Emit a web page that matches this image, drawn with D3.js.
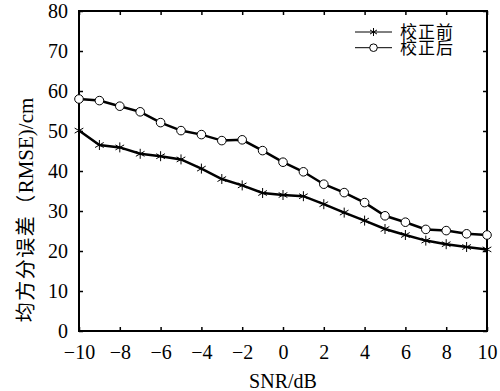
<!DOCTYPE html>
<html>
<head>
<meta charset="utf-8">
<script src="https://cdn.jsdelivr.net/npm/d3@7"></script>
<style>
  body { margin: 0; background: #fff; }
  text { fill: #000; }
</style>
</head>
<body>
<div id="chart"></div>
<script>
// SNR values (dB)
const snr = [-10, -9, -8, -7, -6, -5, -4, -3, -2, -1, 0, 1, 2, 3, 4, 5, 6, 7, 8, 9, 10];
// before correction (校正前)
const before = [50.1, 46.5, 45.9, 44.3, 43.7, 42.9, 40.6, 38.0, 36.4, 34.5, 34.0, 33.7, 31.7, 29.6, 27.6, 25.5, 24.0, 22.6, 21.7, 21.0, 20.4];
// after correction (校正后)
const after = [58.0, 57.6, 56.2, 54.8, 52.1, 50.1, 49.1, 47.6, 47.8, 45.1, 42.2, 39.8, 36.7, 34.6, 32.1, 28.8, 27.2, 25.4, 25.1, 24.3, 24.0];
const xTicks = [-10, -8, -6, -4, -2, 0, 2, 4, 6, 8, 10];
const yTicks = [0, 10, 20, 30, 40, 50, 60, 70, 80];
const seriesNames = ['校正前', '校正后'];

const W = 500, H = 391;
const margin = { top: 11, right: 13, bottom: 60, left: 79 };
const width = W - margin.left - margin.right;
const height = H - margin.top - margin.bottom;

const svg = d3.select('#chart').append('svg')
  .attr('width', W).attr('height', H);
const g = svg.append('g').attr('transform', `translate(${margin.left},${margin.top})`);

const x = d3.scaleLinear().domain([-10, 10]).range([0, width]);
const y = d3.scaleLinear().domain([0, 80]).range([height, 0]);

const serif = '"Liberation Serif", "Times New Roman", serif';
const cjk = '"Noto Sans CJK SC", sans-serif';
const fmt = d => d < 0 ? '\u2212' + Math.abs(d) : String(d);

// axes: ticks point inward on all four sides
const tickLen = 4;
const xAxis = d3.axisBottom(x).tickValues(xTicks).tickSize(-tickLen).tickPadding(14).tickFormat(fmt);
const yAxis = d3.axisLeft(y).tickValues(yTicks).tickSize(-tickLen).tickPadding(11);

const gx = g.append('g').attr('transform', `translate(0,${height})`).call(xAxis);
const gy = g.append('g').call(yAxis);
g.append('g').call(d3.axisTop(x).tickValues(xTicks).tickSize(-tickLen).tickFormat(''));
g.append('g').attr('transform', `translate(${width},0)`).call(d3.axisRight(y).tickValues(yTicks).tickSize(-tickLen).tickFormat(''));

g.selectAll('.domain').remove();
g.selectAll('.tick line').attr('stroke', '#000').attr('stroke-width', 1.5);
[gx, gy].forEach(a => a.selectAll('.tick text')
  .style('font-family', serif).style('font-size', '20px').attr('fill', '#000'));

g.append('rect').attr('width', width).attr('height', height)
  .attr('fill', 'none').attr('stroke', '#000').attr('stroke-width', 2);

// axis titles
svg.append('text')
  .attr('x', margin.left + width / 2).attr('y', 388)
  .attr('text-anchor', 'middle')
  .style('font-family', serif).style('font-size', '20px')
  .text('SNR/dB');

svg.append('text')
  .attr('transform', `translate(33,210) rotate(-90)`)
  .attr('text-anchor', 'middle')
  .style('font-size', '20px')
  .call(t => {
    t.append('tspan').style('font-family', cjk).style('letter-spacing', '1.5px').text('均方分误差（');
    t.append('tspan').style('font-family', serif).style('font-size', '21px').text('RMSE)/cm');
  });

const line = d3.line().x((d, i) => x(snr[i])).y(d => y(d));

g.append('path').datum(before).attr('d', line)
  .attr('fill', 'none').attr('stroke', '#000').attr('stroke-width', 2.5);
g.append('path').datum(after).attr('d', line)
  .attr('fill', 'none').attr('stroke', '#000').attr('stroke-width', 2.5);

// star marker
function star(sel, cx, cy, r) {
  for (let k = 0; k < 3; k++) {
    const a = Math.PI / 2 + k * Math.PI / 3;
    sel.append('line')
      .attr('x1', cx - r * Math.cos(a)).attr('y1', cy - r * Math.sin(a))
      .attr('x2', cx + r * Math.cos(a)).attr('y2', cy + r * Math.sin(a))
      .attr('stroke', '#000').attr('stroke-width', 1);
  }
}

const stars = g.append('g');
before.forEach((v, i) => star(stars, x(snr[i]), y(v), 5));

g.append('g').selectAll('circle').data(after).enter().append('circle')
  .attr('cx', (d, i) => x(snr[i])).attr('cy', d => y(d)).attr('r', 4.3)
  .attr('fill', '#fff').attr('stroke', '#000').attr('stroke-width', 1);

// legend
const legend = svg.append('g');
seriesNames.forEach((name, i) => {
  const ly = 32 + i * 15.7;
  legend.append('line').attr('x1', 355).attr('x2', 392).attr('y1', ly).attr('y2', ly)
    .attr('stroke', '#000').attr('stroke-width', 1);
  if (i === 0) star(legend, 373.5, ly, 4);
  else legend.append('circle').attr('cx', 373.5).attr('cy', ly).attr('r', 3.8)
    .attr('fill', '#fff').attr('stroke', '#000').attr('stroke-width', 1);
  legend.append('text').attr('x', 400).attr('y', ly + 6)
    .style('font-family', cjk).style('font-size', '17px').style('letter-spacing', '1px').text(name);
});
</script>
</body>
</html>
